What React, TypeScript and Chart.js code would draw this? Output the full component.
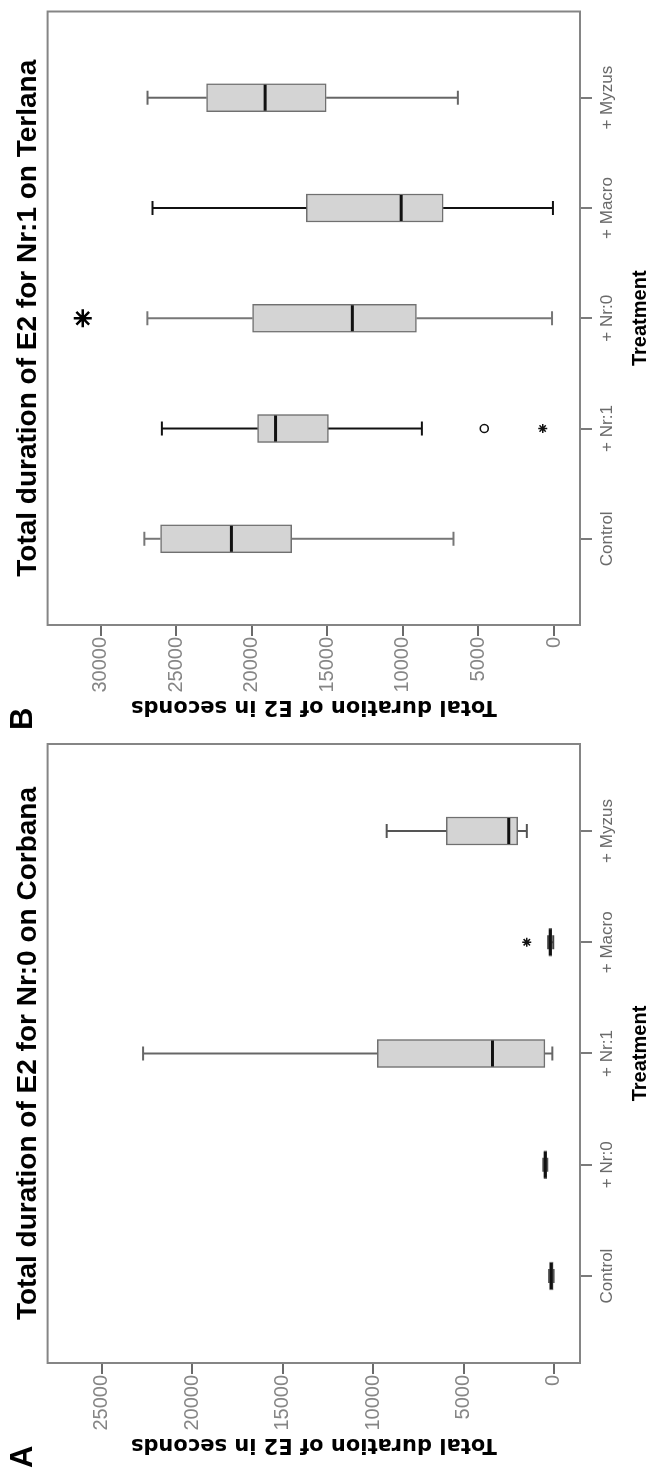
import React, { useEffect, useRef } from 'react';
import { Chart, registerables } from 'chart.js';

Chart.register(...registerables);

// ---------- Panel A: Nr:0 on Corbana ----------
const TITLE_A = 'Total duration of E2 for Nr:0 on Corbana';
const CATEGORIES_A = ['Control', '+ Nr:0', '+ Nr:1', '+ Macro', '+ Myzus'];
const WHISKER_LOW_A = [20, 370, 90, 40, 1500];
const Q1_A = [50, 400, 500, 120, 2000];
const MEDIAN_A = [150, 480, 3400, 200, 2500];
const Q3_A = [240, 560, 9770, 280, 5950];
const WHISKER_HIGH_A = [270, 590, 22720, 320, 9250];
const CIRCLE_OUTLIERS_A: { cat: number; value: number }[] = [];
const STAR_OUTLIERS_A = [{ cat: 3, value: 1500 }];
const EXTREME_OUTLIERS_A: { cat: number; value: number }[] = [];
const TICKS_A = [0, 5000, 10000, 15000, 20000, 25000];
const AXIS_MIN_A = -1440;
const AXIS_MAX_A = 28000;

// ---------- Panel B: Nr:1 on Terlana ----------
const TITLE_B = 'Total duration of E2 for Nr:1 on Terlana';
const CATEGORIES_B = ['Control', '+ Nr:1', '+ Nr:0', '+ Macro', '+ Myzus'];
const WHISKER_LOW_B = [6650, 8740, 130, 70, 6360];
const Q1_B = [17350, 14930, 9100, 7330, 15070];
const MEDIAN_B = [21340, 18420, 13340, 10110, 19110];
const Q3_B = [26030, 19610, 19940, 16390, 22980];
const WHISKER_HIGH_B = [27100, 25940, 26900, 26560, 26890];
const CIRCLE_OUTLIERS_B = [{ cat: 1, value: 4610 }];
const STAR_OUTLIERS_B = [{ cat: 1, value: 750 }];
const EXTREME_OUTLIERS_B = [{ cat: 2, value: 31170 }];
const TICKS_B = [0, 5000, 10000, 15000, 20000, 25000, 30000];
const AXIS_MIN_B = -1720;
const AXIS_MAX_B = 33500;

const Y_TITLE = 'Total duration of E2 in seconds';
const X_TITLE = 'Treatment';

// styles (not data)
const WHISKER_COLORS_A = ['#555', '#555', '#666', '#444', '#555'];
const WHISKER_COLORS_B = ['#777', '#111', '#777', '#111', '#666'];

type Panel = {
  letter: string;
  title: string;
  cats: string[];
  lo: number[];
  q1: number[];
  med: number[];
  q3: number[];
  hi: number[];
  circles: { cat: number; value: number }[];
  stars: { cat: number; value: number }[];
  extremes: { cat: number; value: number }[];
  ticks: number[];
  min: number;
  max: number;
  whiskerColors: string[];
};

const PANEL_A: Panel = {
  letter: 'A', title: TITLE_A, cats: CATEGORIES_A, lo: WHISKER_LOW_A, q1: Q1_A, med: MEDIAN_A,
  q3: Q3_A, hi: WHISKER_HIGH_A, circles: CIRCLE_OUTLIERS_A, stars: STAR_OUTLIERS_A,
  extremes: EXTREME_OUTLIERS_A, ticks: TICKS_A, min: AXIS_MIN_A, max: AXIS_MAX_A,
  whiskerColors: WHISKER_COLORS_A,
};
const PANEL_B: Panel = {
  letter: 'B', title: TITLE_B, cats: CATEGORIES_B, lo: WHISKER_LOW_B, q1: Q1_B, med: MEDIAN_B,
  q3: Q3_B, hi: WHISKER_HIGH_B, circles: CIRCLE_OUTLIERS_B, stars: STAR_OUTLIERS_B,
  extremes: EXTREME_OUTLIERS_B, ticks: TICKS_B, min: AXIS_MIN_B, max: AXIS_MAX_B,
  whiskerColors: WHISKER_COLORS_B,
};

const SANS = '"Liberation Sans", Arial, sans-serif';
const NARROW = '"Liberation Sans Narrow", "Liberation Sans", Arial, sans-serif';
const BOX_W = 28;

function makePlugin(p: Panel) {
  return {
    id: 'boxDecor' + p.letter,
    afterDatasetsDraw(chart: any) {
      const { ctx, chartArea } = chart;
      const x = chart.scales.x;
      const y = chart.scales.y;
      const seg = (x1: number, y1: number, x2: number, y2: number) => {
        ctx.beginPath();
        ctx.moveTo(x1, y1);
        ctx.lineTo(x2, y2);
        ctx.stroke();
      };
      ctx.save();
      ctx.lineCap = 'butt';
      for (let i = 0; i < p.cats.length; i++) {
        const cx = x.getPixelForValue(i);
        const yLo = y.getPixelForValue(p.lo[i]);
        const yQ1 = y.getPixelForValue(p.q1[i]);
        const yMed = y.getPixelForValue(p.med[i]);
        const yQ3 = y.getPixelForValue(p.q3[i]);
        const yHi = y.getPixelForValue(p.hi[i]);
        ctx.strokeStyle = p.whiskerColors[i];
        ctx.lineWidth = 2;
        seg(cx, yQ3, cx, yHi);
        seg(cx, yQ1, cx, yLo);
        seg(cx - 7, yHi, cx + 7, yHi);
        seg(cx - 7, yLo, cx + 7, yLo);
        ctx.strokeStyle = '#111';
        ctx.lineWidth = 3;
        seg(cx - BOX_W / 2 + 1, yMed, cx + BOX_W / 2 - 1, yMed);
      }
      ctx.strokeStyle = '#858585';
      ctx.lineWidth = 2;
      ctx.strokeRect(chartArea.left, chartArea.top, chartArea.right - chartArea.left, chartArea.bottom - chartArea.top);
      ctx.fillStyle = '#000';
      ctx.font = 'bold 31px ' + SANS;
      ctx.textAlign = 'left';
      ctx.textBaseline = 'alphabetic';
      ctx.fillText(p.letter, 8, 32);
      ctx.restore();
    },
  };
}

function makeConfig(p: Panel): any {
  return {
    type: 'bar',
    data: {
      datasets: [
        {
          type: 'bar',
          data: p.cats.map((_, i) => ({ x: i, y: [p.q1[i], p.q3[i]] })),
          barThickness: BOX_W,
          backgroundColor: '#d4d4d4',
          borderColor: '#707070',
          borderWidth: 1.5,
          borderSkipped: false,
        },
        {
          type: 'scatter',
          data: p.circles.map((o) => ({ x: o.cat, y: o.value })),
          pointStyle: 'circle',
          radius: 4,
          borderWidth: 1.5,
          borderColor: '#111',
          backgroundColor: 'rgba(0,0,0,0)',
        },
        {
          type: 'scatter',
          data: p.stars.map((o) => ({ x: o.cat, y: o.value })),
          pointStyle: 'star',
          radius: 4.5,
          borderWidth: 1.5,
          borderColor: '#111',
          backgroundColor: '#111',
        },
        {
          type: 'scatter',
          data: p.extremes.map((o) => ({ x: o.cat, y: o.value })),
          pointStyle: 'star',
          radius: 9,
          borderWidth: 2.5,
          borderColor: '#000',
          backgroundColor: '#000',
        },
      ],
    },
    options: {
      responsive: false,
      maintainAspectRatio: false,
      animation: false,
      events: [],
      layout: { padding: { top: 0, right: 6, bottom: 0, left: 0 } },
      plugins: {
        legend: { display: false },
        tooltip: { enabled: false },
        title: {
          display: true,
          text: p.title,
          fullSize: false,
          color: '#000',
          font: { family: SANS, size: 28, weight: 'bold', lineHeight: 1.2 },
          padding: { top: 11, bottom: 3 },
        },
      },
      scales: {
        x: {
          type: 'linear',
          min: -0.782,
          max: 4.782,
          offset: false,
          afterBuildTicks: (s: any) => {
            s.ticks = p.cats.map((_, i) => ({ value: i }));
          },
          afterFit: (s: any) => {
            s.height = 72;
          },
          ticks: {
            autoSkip: false,
            maxRotation: 0,
            minRotation: 0,
            padding: 5,
            color: '#6a6a6a',
            font: { family: SANS, size: 17 },
            callback: (_v: any, i: number) => p.cats[i],
          },
          grid: {
            display: true,
            offset: false,
            drawOnChartArea: false,
            drawTicks: true,
            tickLength: 12,
            color: '#7a7a7a',
            lineWidth: 2,
          },
          border: { display: false },
          title: {
            display: true,
            text: X_TITLE,
            color: '#000',
            font: { family: SANS, size: 20, weight: 'bold', lineHeight: 1.2 },
            padding: { top: 0, bottom: 0 },
          },
        },
        y: {
          type: 'linear',
          min: p.min,
          max: p.max,
          afterBuildTicks: (s: any) => {
            s.ticks = p.ticks.map((v) => ({ value: v }));
          },
          afterFit: (s: any) => {
            s.width = 113;
          },
          ticks: {
            padding: 1,
            color: '#858585',
            font: { family: NARROW, size: 20 },
            callback: (v: any) => String(v),
          },
          grid: {
            display: true,
            drawOnChartArea: false,
            drawTicks: true,
            tickLength: 11,
            color: '#6a6a6a',
            lineWidth: 2,
          },
          border: { display: false },
          title: {
            display: true,
            text: Y_TITLE,
            color: '#000',
            font: { family: '"DejaVu Sans", sans-serif', size: 21, weight: 'bold', lineHeight: 1.2 },
            padding: { top: 19, bottom: 0 },
          },
        },
      },
    },
    plugins: [makePlugin(p)],
  };
}

export default function App() {
  const refA = useRef<HTMLCanvasElement>(null);
  const refB = useRef<HTMLCanvasElement>(null);

  useEffect(() => {
    document.documentElement.style.overflow = 'hidden';
    document.body.style.overflow = 'hidden';
    const charts: Chart[] = [];
    if (refA.current) charts.push(new Chart(refA.current, makeConfig(PANEL_A)));
    if (refB.current) charts.push(new Chart(refB.current, makeConfig(PANEL_B)));
    return () => {
      charts.forEach((c) => c.destroy());
    };
  }, []);

  return (
    <div
      style={{
        position: 'absolute',
        left: 0,
        top: 0,
        width: 1476,
        height: 652,
        display: 'flex',
        background: '#fff',
        transformOrigin: '0 0',
        transform: 'translateY(1476px) rotate(-90deg)',
      }}
    >
      <canvas ref={refA} width={738} height={652} style={{ display: 'block', width: 738, height: 652 }} />
      <canvas ref={refB} width={738} height={652} style={{ display: 'block', width: 738, height: 652 }} />
    </div>
  );
}
